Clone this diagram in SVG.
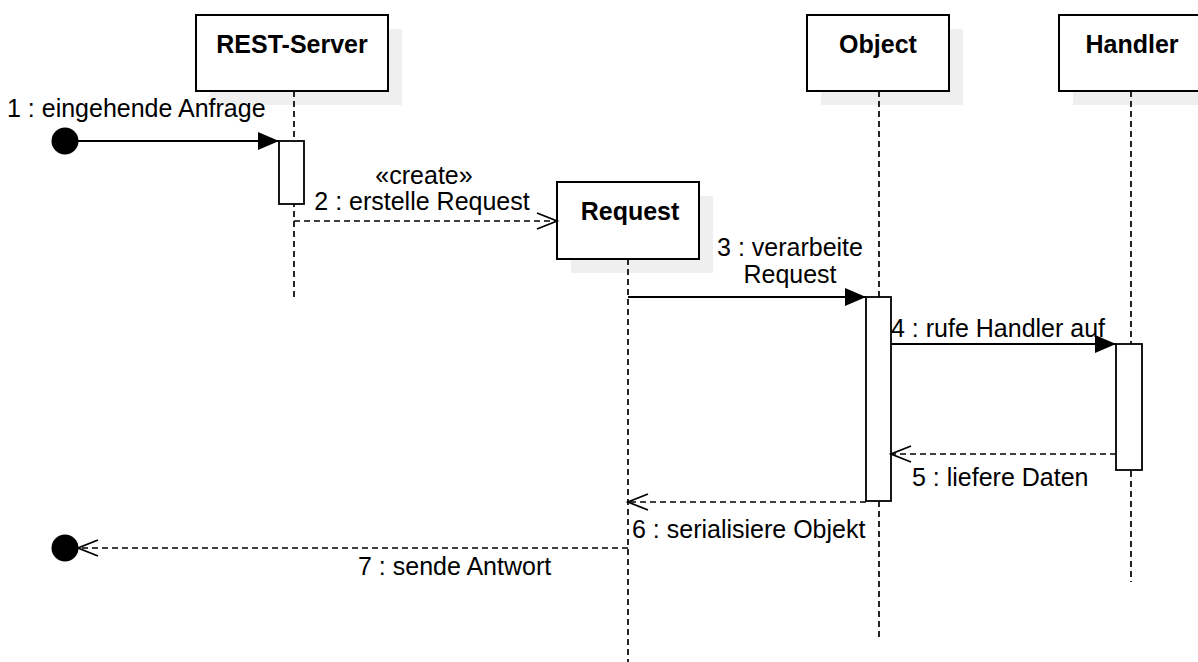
<svg xmlns="http://www.w3.org/2000/svg" width="1198" height="662" viewBox="0 0 1198 662">
<style>
text{font-family:"Liberation Sans",Arial,sans-serif;font-size:25px;fill:#000}
.title{font-weight:bold;text-anchor:middle}
.mid{text-anchor:middle}
.shadow{fill:#efefef;stroke:none}
.box{fill:#fff;stroke:#000;stroke-width:2}
.life{stroke:#000;stroke-width:1.7;stroke-dasharray:6 4;fill:none}
.act{fill:#fff;stroke:#000;stroke-width:1.8}
.msg{stroke:#000;stroke-width:1.9;fill:none}
.ret{stroke:#000;stroke-width:1.7;fill:none;stroke-dasharray:6 4}
</style>
<defs>
<marker id="filled" markerUnits="userSpaceOnUse" markerWidth="22" markerHeight="20" refX="21" refY="9" orient="auto" overflow="visible">
<path d="M0,0 L21,9 L0,18 Z" fill="#000" stroke="none"/>
</marker>
<marker id="open" markerUnits="userSpaceOnUse" markerWidth="22" markerHeight="18" refX="20" refY="8" orient="auto" overflow="visible">
<path d="M0,0 L20,8 L0,16" fill="none" stroke="#000" stroke-width="1.8" stroke-dasharray="none"/>
</marker>
</defs>
<rect width="1198" height="662" fill="#fff"/>

<g id="rest-server">
<rect class="shadow" x="210" y="29" width="192" height="76"/>
<line class="life" x1="294" y1="91" x2="294" y2="298"/>
<rect class="box" x="196" y="15" width="192" height="76"/>
<text class="title" x="292" y="53">REST-Server</text>
<rect class="act" x="279" y="141" width="25" height="63"/>
</g>

<g id="request">
<rect class="shadow" x="571" y="196" width="142" height="77"/>
<line class="life" x1="628" y1="259" x2="628" y2="662"/>
<rect class="box" x="557" y="182" width="142" height="77"/>
<text class="title" x="630" y="220">Request</text>
</g>

<g id="object">
<rect class="shadow" x="821" y="29" width="142" height="76"/>
<line class="life" x1="879" y1="91" x2="879" y2="638"/>
<rect class="box" x="807" y="15" width="142" height="76"/>
<text class="title" x="878" y="53">Object</text>
<rect class="act" x="866" y="297" width="25" height="204"/>
</g>

<g id="handler">
<rect class="shadow" x="1073" y="29" width="146" height="76"/>
<line class="life" x1="1131" y1="91" x2="1131" y2="582"/>
<rect class="box" x="1059" y="15" width="146" height="76"/>
<text class="title" x="1132" y="53">Handler</text>
<rect class="act" x="1116" y="344" width="26" height="126"/>
</g>

<g id="start">
<circle cx="65" cy="141" r="13.5" fill="#000"/>
</g>
<g id="end">
<circle cx="65" cy="548" r="13.5" fill="#000"/>
</g>

<g id="connectors">
<line class="msg" x1="78" y1="141" x2="279" y2="141" marker-end="url(#filled)"/>
<text x="7" y="117">1 : eingehende Anfrage</text>

<line class="ret" x1="294" y1="221" x2="557" y2="221" marker-end="url(#open)"/>
<text class="mid" x="424" y="184">«create»</text>
<text class="mid" x="422" y="210">2 : erstelle Request</text>

<line class="msg" x1="628" y1="297" x2="866" y2="297" marker-end="url(#filled)"/>
<text class="mid" x="790" y="256">3 : verarbeite</text>
<text class="mid" x="790" y="283">Request</text>

<line class="msg" x1="891" y1="344" x2="1116" y2="344" marker-end="url(#filled)"/>
<text x="891" y="337">4 : rufe Handler auf</text>

<line class="ret" x1="1116" y1="454" x2="891" y2="454" marker-end="url(#open)"/>
<text x="912" y="486">5 : liefere Daten</text>

<line class="ret" x1="866" y1="502" x2="628" y2="502" marker-end="url(#open)"/>
<text x="632" y="538">6 : serialisiere Objekt</text>

<line class="ret" x1="628" y1="548" x2="78" y2="548" marker-end="url(#open)"/>
<text x="358" y="575">7 : sende Antwort</text>
</g>
</svg>
